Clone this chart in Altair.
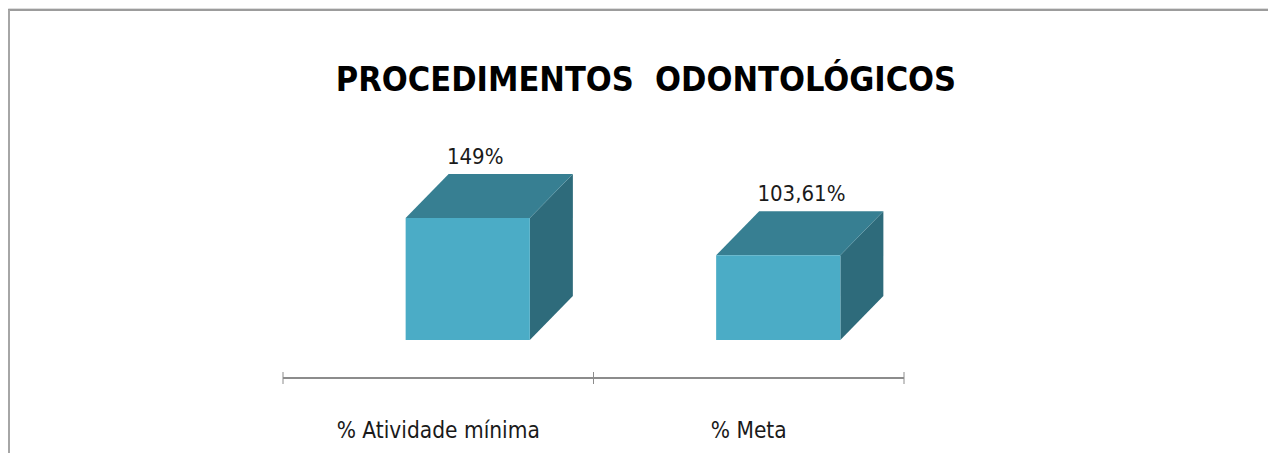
import altair as alt
import pandas as pd

# ---- data ----
categories = ["% Atividade mínima", "% Meta"]
values = [149, 103.61]
value_labels = ["149%", "103,61%"]
title_text = "PROCEDIMENTOS\u00a0 ODONTOLÓGICOS"

# ---- layout / style constants ----
W, H = 1260, 445
PX_PER_UNIT = 0.8188
Y0 = 332
X_RANGE = [275, 896]
FRONT_L, FRONT_R = 0.395, 0.795   # fraction of category band
DX = 0.1385                        # 3D depth in band units
DV = 53.7                          # 3D depth in value units
LABEL_X = 0.528
FRONT_C, TOP_C, SIDE_C = "#4BACC6", "#377F92", "#2E6B7B"
FONT = "DejaVu Sans Condensed"

xs = alt.Scale(domain=[0, 2], range=X_RANGE)
ys = alt.Scale(domain=[0, 200], range=[Y0, Y0 - 200 * PX_PER_UNIT])

front = pd.DataFrame({
    "cat": categories,
    "x0": [i + FRONT_L for i in range(len(categories))],
    "x1": [i + FRONT_R for i in range(len(categories))],
    "v": values,
})

top_rows, side_rows = [], []
for i, (c, v) in enumerate(zip(categories, values)):
    for t in (0, 1):
        top_rows.append({"cat": c, "y": v + t * DV,
                         "xa": i + FRONT_L + t * DX, "xb": i + FRONT_R + t * DX})
        side_rows.append({"cat": c, "x": i + FRONT_R + t * DX,
                          "ya": t * DV, "yb": v + t * DV})
top = pd.DataFrame(top_rows)
side = pd.DataFrame(side_rows)

labels = pd.DataFrame({
    "x": [i + LABEL_X for i in range(len(categories))],
    "y": [v + DV for v in values],
    "t": value_labels,
})
cats = pd.DataFrame({"x": [i + 0.5 for i in range(len(categories))], "cat": categories})
ticks = pd.DataFrame({"x": list(range(len(categories) + 1))})
axis_df = pd.DataFrame({"x0": [0], "x1": [len(categories)]})

noaxis = None
front_l = alt.Chart(front).mark_rect(color=FRONT_C).encode(
    x=alt.X("x0:Q", scale=xs, axis=noaxis), x2="x1:Q",
    y=alt.Y("v:Q", scale=ys, axis=noaxis), y2=alt.datum(0),
)
top_l = alt.Chart(top).mark_area(color=TOP_C, orient="horizontal").encode(
    y=alt.Y("y:Q", scale=ys, axis=noaxis),
    x=alt.X("xa:Q", scale=xs, axis=noaxis), x2="xb:Q",
    detail="cat:N",
)
side_l = alt.Chart(side).mark_area(color=SIDE_C, orient="vertical").encode(
    x=alt.X("x:Q", scale=xs, axis=noaxis),
    y=alt.Y("yb:Q", scale=ys, axis=noaxis), y2="ya:Q",
    detail="cat:N",
)
lab_l = alt.Chart(labels).mark_text(font=FONT, fontSize=22, color="#1a1a1a",
                                    align="left", baseline="alphabetic", dy=-10).encode(
    x=alt.X("x:Q", scale=xs, axis=noaxis),
    y=alt.Y("y:Q", scale=ys, axis=noaxis),
    text="t:N",
)
axis_l = alt.Chart(axis_df).mark_rule(color="#8c8c8c", strokeWidth=2).encode(
    x=alt.X("x0:Q", scale=xs, axis=noaxis), x2="x1:Q",
    y=alt.value(370),
)
tick_l = alt.Chart(ticks).mark_rule(color="#8c8c8c", strokeWidth=1).encode(
    x=alt.X("x:Q", scale=xs, axis=noaxis),
    y=alt.value(364), y2=alt.value(376),
)
cat_l = alt.Chart(cats).mark_text(font=FONT, fontSize=22.5, color="#1a1a1a",
                                  baseline="middle").encode(
    x=alt.X("x:Q", scale=xs, axis=noaxis),
    y=alt.value(423),
    text="cat:N",
)
title_l = alt.Chart(pd.DataFrame({"t": [title_text]})).mark_text(
    font=FONT, fontSize=34, fontWeight="bold", color="#000000", baseline="alphabetic"
).encode(x=alt.value(638), y=alt.value(83), text="t:N")

border_top = alt.Chart(pd.DataFrame({"a": [0]})).mark_rule(color="#9c9c9c", strokeWidth=2).encode(
    x=alt.value(0), x2=alt.value(W), y=alt.value(2)
)
border_left = alt.Chart(pd.DataFrame({"a": [0]})).mark_rule(color="#a6a6a6", strokeWidth=2).encode(
    x=alt.value(1), y=alt.value(2), y2=alt.value(H)
)

chart = alt.layer(
    border_top, border_left, axis_l, tick_l, side_l, top_l, front_l, lab_l, cat_l, title_l
).properties(
    width=W, height=H, autosize=alt.AutoSizeParams(type="none"), padding=0
).configure_view(stroke=None).configure(background="white")

chart.save("out.html", embed_options={"renderer": "svg", "actions": False})
